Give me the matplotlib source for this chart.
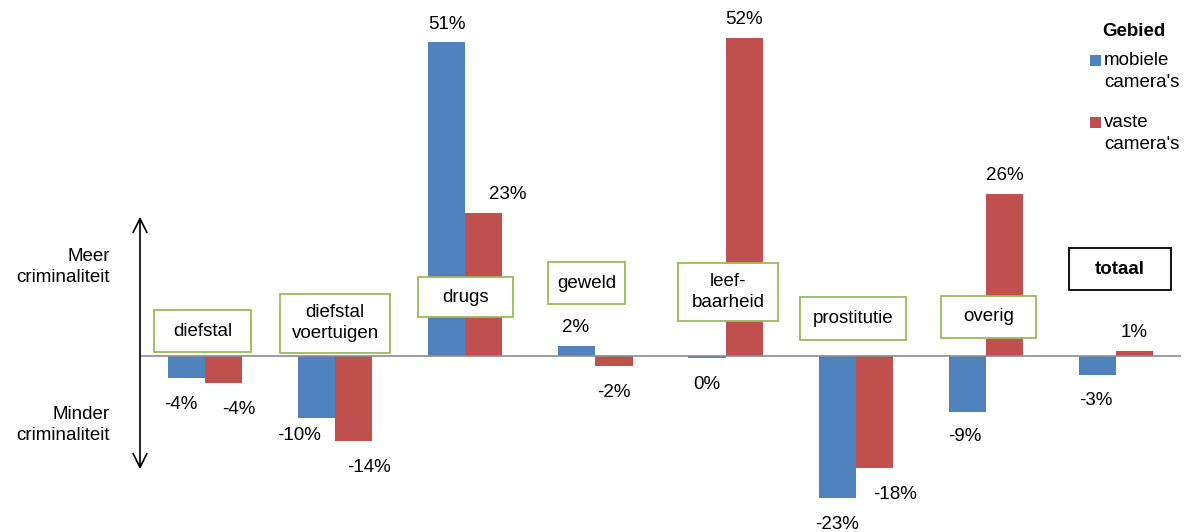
import matplotlib.pyplot as plt
from matplotlib.patches import Rectangle, FancyArrowPatch
import numpy as np

plt.rcParams['font.family'] = ['Liberation Sans', 'DejaVu Sans']

categories = ['diefstal', 'diefstal\nvoertuigen', 'drugs', 'geweld', 'leef-\nbaarheid',
              'prostitutie', 'overig', 'totaal']
mobiel = [-3.7, -10.2, 51.0, 1.6, -0.3, -23.2, -9.2, -3.2]
vast = [-4.5, -13.9, 23.2, -1.7, 51.7, -18.3, 26.3, 0.8]
mobiel_labels = ['-4%', '-10%', '51%', '2%', '0%', '-23%', '-9%', '-3%']
vast_labels = ['-4%', '-14%', '23%', '-2%', '52%', '-18%', '26%', '1%']
series_names = ["mobiele\ncamera's", "vaste\ncamera's"]

# category box placement (centre x offset in groups, centre y in %, width in groups, height in %)
box_dx = [-0.02, 0.0, 0.0, -0.07, 0.02, -0.02, 0.02, 0.03]
box_y = [4.0, 5.3, 9.5, 11.8, 10.4, 6.1, 6.3, 14.1]
box_w = [0.74, 0.85, 0.73, 0.59, 0.77, 0.82, 0.73, 0.78]
box_h = [6.8, 9.6, 6.5, 6.8, 9.4, 7.0, 6.8, 6.8]
# label nudges in pixels
mob_dx = [-6, -18, 0, -1, 0, 0, -2, -2]
vast_dx = [15, 15, 24, 0, 0, 21, 0, 0]
mob_dy = [0, 9, 0, 0, 0, 0, 2, 1]

blue = '#4F81BD'
red = '#C0504D'
green = '#9BBB59'
fs = 13.5
ls = 1.35

W, H = 1194, 532
def px(xp, yp):
    return xp / W, 1 - yp / H

fig = plt.figure(figsize=(W / 100, H / 100), dpi=100)
ax = fig.add_axes([140 / W, 0, (1181 - 140) / W, 1])
x = np.arange(len(categories))
w = 0.285
ax.bar(x - w / 2, mobiel, w, color=blue)
ax.bar(x + w / 2, vast, w, color=red)
ax.axhline(0, color='#8C8C8C', lw=1.2, zorder=3)
ax.set_xlim(-0.5, 7.5)
ax.set_ylim(-28.7, 57.9)
ax.axis('off')

# value labels
for i in range(len(categories)):
    for xv, v, lab, dx, dy in [(x[i] - w / 2, mobiel[i], mobiel_labels[i], mob_dx[i], mob_dy[i]),
                               (x[i] + w / 2, vast[i], vast_labels[i], vast_dx[i], 0)]:
        dx = dx * 0.72
        dy = dy * 0.72
        if v >= 0 and lab != '0%':
            ax.annotate(lab, (xv, v), xytext=(dx, 7), textcoords='offset points',
                        ha='center', va='bottom', fontsize=fs)
        else:
            ax.annotate(lab, (xv, min(v, 0)), xytext=(dx, -13 + dy), textcoords='offset points',
                        ha='center', va='top', fontsize=fs)

# category boxes
for i, c in enumerate(categories):
    cx = x[i] + box_dx[i]
    is_tot = c == 'totaal'
    ax.add_patch(Rectangle((cx - box_w[i] / 2, box_y[i] - box_h[i] / 2), box_w[i], box_h[i],
                           fc='white', ec='black' if is_tot else green, lw=1.3, zorder=4))
    ax.text(cx, box_y[i], c, ha='center', va='center', fontsize=fs, linespacing=ls,
            fontweight='bold' if is_tot else 'normal', zorder=5)

# left arrow and axis labels
fig.patches.append(FancyArrowPatch(px(140, 472), px(140, 214), transform=fig.transFigure,
                                   arrowstyle='<->,head_length=10,head_width=5', color='black',
                                   lw=1.2, mutation_scale=1))
fig.text(*px(110, 267), 'Meer\ncriminaliteit', ha='right', va='center', fontsize=fs,
         linespacing=ls)
fig.text(*px(110, 425), 'Minder\ncriminaliteit', ha='right', va='center', fontsize=fs,
         linespacing=ls)

# legend
fig.text(*px(1134, 31), 'Gebied', ha='center', va='center', fontsize=fs, fontweight='bold')
for k, (name, col) in enumerate(zip(series_names, [blue, red])):
    y0 = 60 + 62 * k
    fig.patches.append(Rectangle(px(1090, y0 + 6), 11 / W, 11 / H, transform=fig.transFigure,
                                 fc=col, ec='none'))
    fig.text(*px(1104, y0 - 8), name, ha='left', va='top', fontsize=fs, linespacing=ls)

fig.savefig('out.png', dpi=100)
